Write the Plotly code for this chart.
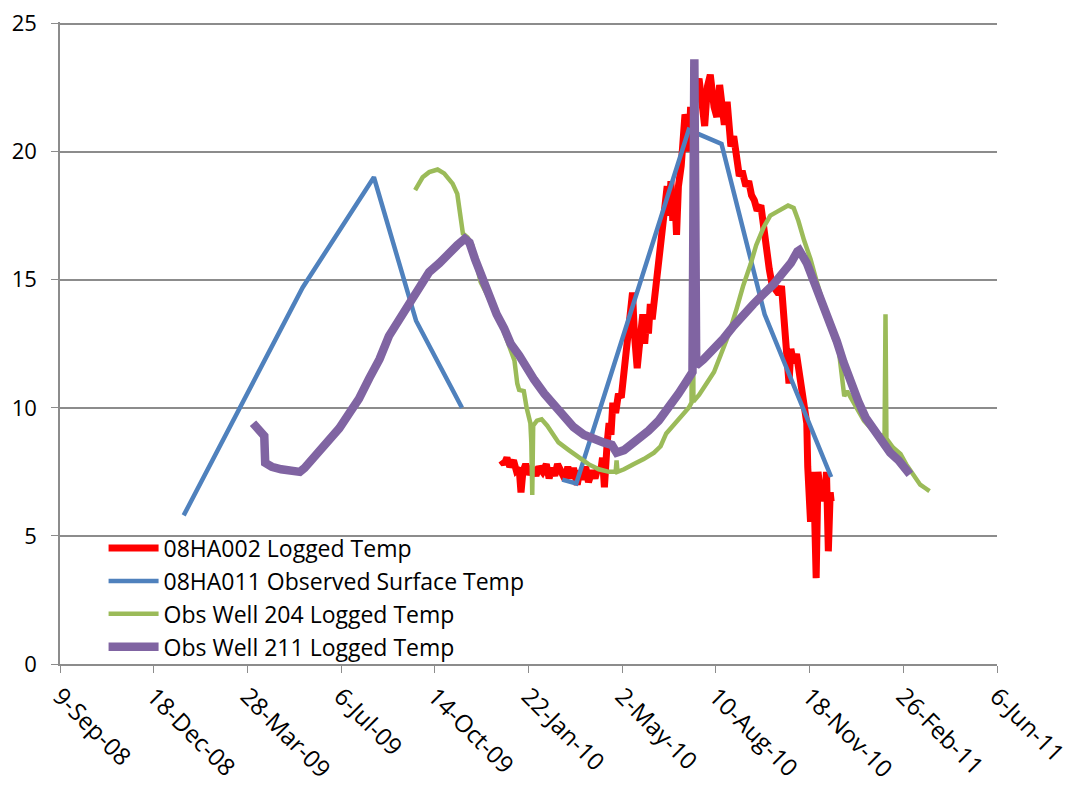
import plotly.graph_objects as go

# ---- 08HA002 Logged Temp (red) ----
red_dates = ["2009-12-24","2009-12-27","2009-12-30","2010-01-02","2010-01-06","2010-01-09","2010-01-12","2010-01-14",
             "2010-01-16","2010-01-19","2010-01-23","2010-01-27","2010-01-30","2010-02-02","2010-02-06","2010-02-10",
             "2010-02-13","2010-02-16","2010-02-19","2010-02-22","2010-02-26","2010-03-02","2010-03-05","2010-03-08",
             "2010-03-11","2010-03-15","2010-03-18","2010-03-21","2010-03-24","2010-03-27","2010-03-31","2010-04-03",
             "2010-04-06","2010-04-09","2010-04-11","2010-04-13","2010-04-16","2010-04-18","2010-04-20","2010-04-22",
             "2010-04-25","2010-04-28","2010-05-01","2010-05-03","2010-05-05","2010-05-07","2010-05-09","2010-05-11",
             "2010-05-13","2010-05-15","2010-05-18","2010-05-20","2010-05-22","2010-05-24","2010-05-26","2010-05-28",
             "2010-05-30","2010-06-01","2010-06-03","2010-06-06","2010-06-08","2010-06-10","2010-06-12","2010-06-14",
             "2010-06-16","2010-06-19","2010-06-21","2010-06-23","2010-06-25","2010-06-27","2010-06-29","2010-07-01",
             "2010-07-04","2010-07-06","2010-07-08","2010-07-10","2010-07-12","2010-07-14","2010-07-16","2010-07-19",
             "2010-07-23","2010-07-26","2010-07-29","2010-08-01","2010-08-04","2010-08-08","2010-08-11","2010-08-14",
             "2010-08-17","2010-08-19","2010-08-22","2010-08-26","2010-08-29","2010-09-01","2010-09-04","2010-09-07",
             "2010-09-11","2010-09-14","2010-09-17","2010-09-20","2010-09-23","2010-09-27","2010-09-30","2010-10-03",
             "2010-10-06","2010-10-09","2010-10-13","2010-10-16","2010-10-19","2010-10-22","2010-10-25","2010-10-27",
             "2010-10-29","2010-11-01","2010-11-04","2010-11-07","2010-11-10","2010-11-12","2010-11-15","2010-11-16",
             "2010-11-17","2010-11-19","2010-11-21","2010-11-23","2010-11-25","2010-11-27","2010-11-30","2010-12-02",
             "2010-12-04","2010-12-06","2010-12-08","2010-12-10","2010-12-11"]
red_values = [7.95,7.8,8.05,7.7,7.95,7.55,7.65,6.7,
              7.5,7.8,7.4,7.65,7.35,7.7,7.5,7.8,
              7.25,7.65,7.35,7.8,7.5,7.2,7.7,7.25,
              7.65,7.0,7.55,7.2,7.7,7.1,7.55,7.25,
              7.65,7.5,8.05,6.9,8.65,9.4,8.95,10.2,
              9.8,10.55,10.4,11.15,11.75,12.3,12.9,13.65,
              14.5,12.9,11.55,12.3,12.9,13.65,12.5,13.45,
              12.9,14.05,13.45,14.45,15.0,15.5,15.95,16.55,
              17.7,18.65,17.5,18.85,17.3,18.3,16.75,18.65,
              19.45,20.6,21.45,21.2,20.0,21.75,20.2,22.35,
              22.85,21.95,21.0,22.55,23.0,21.75,21.35,22.6,
              21.75,21.05,21.95,20.2,20.6,20.0,19.05,19.25,
              18.65,18.85,18.3,18.1,17.7,17.9,16.95,16.15,
              15.4,14.8,14.65,14.45,14.75,12.9,11.55,10.95,
              12.3,11.75,12.1,11.35,11.05,10.55,9.4,7.7,
              7.1,5.55,7.5,6.35,3.35,7.5,6.5,7.1,
              6.35,7.5,4.4,6.7,6.35]

# ---- 08HA011 Observed Surface Temp (blue) ----
blue_dates = ["2009-01-19","2009-05-26","2009-08-10","2009-09-24","2009-11-12","2010-01-01",
              "2010-02-27","2010-03-14","2010-07-12","2010-08-16","2010-10-01","2010-12-11"]
blue_values = [5.8,14.7,19.0,13.4,10.0,None,
               7.2,7.05,20.85,20.3,13.65,7.3]

# ---- Obs Well 204 Logged Temp (green) ----
green_dates = ["2009-09-23","2009-10-01","2009-10-08","2009-10-17","2009-10-24","2009-11-02","2009-11-07","2009-11-10",
               "2009-11-13","2009-11-18","2009-11-23","2009-11-27","2009-12-02","2009-12-09","2009-12-16","2009-12-24",
               "2009-12-29","2010-01-03","2010-01-07","2010-01-10","2010-01-12","2010-01-17","2010-01-20","2010-01-24",
               "2010-01-25","2010-01-26","2010-01-27","2010-01-31","2010-02-05","2010-02-11","2010-02-16","2010-02-23",
               "2010-03-06","2010-03-17","2010-03-27","2010-04-07","2010-04-18","2010-04-25","2010-04-26","2010-04-27",
               "2010-05-04","2010-05-14","2010-05-25","2010-06-05","2010-06-12","2010-06-18","2010-06-26","2010-07-04",
               "2010-07-12","2010-07-15","2010-07-16","2010-07-17","2010-07-23","2010-07-31","2010-08-08","2010-08-15",
               "2010-08-24","2010-09-01","2010-09-08","2010-09-16","2010-09-22","2010-09-30","2010-10-07","2010-10-14",
               "2010-10-21","2010-10-26","2010-11-01","2010-11-06","2010-11-12","2010-11-19","2010-11-25","2010-12-03",
               "2010-12-08","2010-12-14","2010-12-19","2010-12-22","2010-12-25","2010-12-28","2011-01-07","2011-01-15",
               "2011-01-25","2011-02-04","2011-02-06","2011-02-07","2011-02-08","2011-02-15","2011-02-23","2011-03-01",
               "2011-03-06","2011-03-12","2011-03-16","2011-03-22","2011-03-26"]
green_values = [18.5,19.0,19.2,19.3,19.15,18.75,18.35,17.7,
                16.8,16.65,16.35,15.65,14.9,14.4,13.85,13.25,
                12.75,12.3,11.85,10.95,10.7,10.65,10.0,9.4,
                8.65,6.6,9.3,9.5,9.55,9.3,9.0,8.65,
                8.35,8.05,7.8,7.6,7.5,7.5,7.95,7.5,
                7.6,7.8,8.0,8.25,8.5,9.0,9.35,9.7,
                10.0,10.2,23.3,10.25,10.5,10.95,11.4,12.05,
                12.9,13.85,14.75,15.6,16.35,17.05,17.5,17.65,
                17.8,17.9,17.8,17.3,16.55,15.8,15.0,14.05,
                13.35,12.7,12.3,11.15,10.45,10.65,10.0,9.5,
                9.1,8.9,8.85,13.65,8.8,8.45,8.2,7.8,
                7.55,7.25,7.0,6.85,6.75]

# ---- Obs Well 211 Logged Temp (purple) ----
purple_dates = ["2009-04-03","2009-04-08","2009-04-15","2009-04-16","2009-04-23","2009-05-03","2009-05-14","2009-05-23",
                "2009-05-28","2009-06-04","2009-06-13","2009-06-24","2009-07-04","2009-07-15","2009-07-25","2009-08-05",
                "2009-08-16","2009-08-26","2009-09-06","2009-09-17","2009-09-27","2009-10-08","2009-10-19","2009-10-29",
                "2009-11-07","2009-11-15","2009-11-20","2009-11-26","2009-12-02","2009-12-11","2009-12-19","2009-12-27",
                "2010-01-03","2010-01-12","2010-01-20","2010-01-28","2010-02-08","2010-02-18","2010-03-01","2010-03-11",
                "2010-03-22","2010-04-02","2010-04-12","2010-04-21","2010-04-26","2010-05-04","2010-05-12","2010-05-20",
                "2010-05-30","2010-06-10","2010-06-21","2010-07-01","2010-07-10","2010-07-16","2010-07-18","2010-07-20",
                "2010-07-28","2010-08-08","2010-08-18","2010-08-29","2010-09-08","2010-09-19","2010-09-30","2010-10-10",
                "2010-10-21","2010-10-29","2010-11-05","2010-11-07","2010-11-15","2010-11-22","2010-11-30","2010-12-08",
                "2010-12-17","2010-12-24","2010-12-31","2011-01-09","2011-01-17","2011-01-26","2011-02-04","2011-02-12",
                "2011-02-21","2011-02-28","2011-03-05"]
purple_values = [9.4,9.2,8.9,7.85,7.7,7.6,7.5,7.5,
                 7.65,7.95,8.35,8.75,9.2,9.8,10.35,11.15,
                 11.9,12.8,13.45,14.15,14.8,15.3,15.65,16.05,
                 16.35,16.6,16.45,15.8,15.2,14.45,13.65,13.1,
                 12.5,12.05,11.55,11.1,10.55,10.1,9.65,9.25,
                 8.95,8.75,8.65,8.55,8.25,8.35,8.55,8.75,
                 9.1,9.5,10.0,10.55,11.05,11.4,23.6,11.65,
                 11.9,12.3,12.7,13.2,13.65,14.05,14.45,14.8,
                 15.3,15.65,16.1,16.15,15.65,15.0,14.35,13.45,
                 12.6,11.8,11.05,10.25,9.6,9.1,8.65,8.25,
                 7.95,7.65,7.4]

tick_start = "2008-09-09"
x_range = ["2008-09-09", "2011-06-06"]
y_range = [0, 25.06]

FONT = "Open Sans"
GRID = "#8c8c8c"

fig = go.Figure()
fig.add_trace(go.Scatter(x=red_dates, y=red_values, mode="lines", name="08HA002 Logged Temp",
                         line=dict(color="#FF0000", width=7)))
fig.add_trace(go.Scatter(x=blue_dates, y=blue_values, mode="lines", name="08HA011 Observed Surface Temp",
                         line=dict(color="#4F81BD", width=4.5), connectgaps=False))
fig.add_trace(go.Scatter(x=green_dates, y=green_values, mode="lines", name="Obs Well 204 Logged Temp",
                         line=dict(color="#9BBB59", width=4.5)))
fig.add_trace(go.Scatter(x=purple_dates, y=purple_values, mode="lines", name="Obs Well 211 Logged Temp",
                         line=dict(color="#8064A2", width=8.5)))

fig.update_layout(
    width=1073, height=786,
    margin=dict(l=52, r=84, t=14, b=130, autoexpand=False),
    paper_bgcolor="white", plot_bgcolor="white",
    font=dict(family=FONT, size=22, color="black"),
    showlegend=True,
    legend=dict(x=0.0465, y=0.214, xanchor="left", yanchor="top",
                bgcolor="rgba(0,0,0,0)", font=dict(family=FONT, size=23, color="black"),
                tracegroupgap=0, itemwidth=50),
    xaxis=dict(type="date", range=x_range, tick0=tick_start, dtick=100 * 86400000,
               tickformat="%-d-%b-%y", tickangle=45, showgrid=False, automargin=False,
               showline=True, linecolor=GRID, linewidth=1.5, ticks="outside", ticklen=7,
               tickcolor=GRID, tickfont=dict(family=FONT, size=24, color="black"), zeroline=False),
    yaxis=dict(range=y_range, tick0=0, dtick=5, showgrid=True, gridcolor=GRID, gridwidth=1.5,
               showline=True, linecolor=GRID, linewidth=1.5, ticks="outside", ticklen=7, automargin=False,
               tickcolor=GRID, tickfont=dict(family=FONT, size=22, color="black"), zeroline=False,
               ticklabelstandoff=10, ticklabeloverflow="allow"),
)

fig.write_html("out.html")
